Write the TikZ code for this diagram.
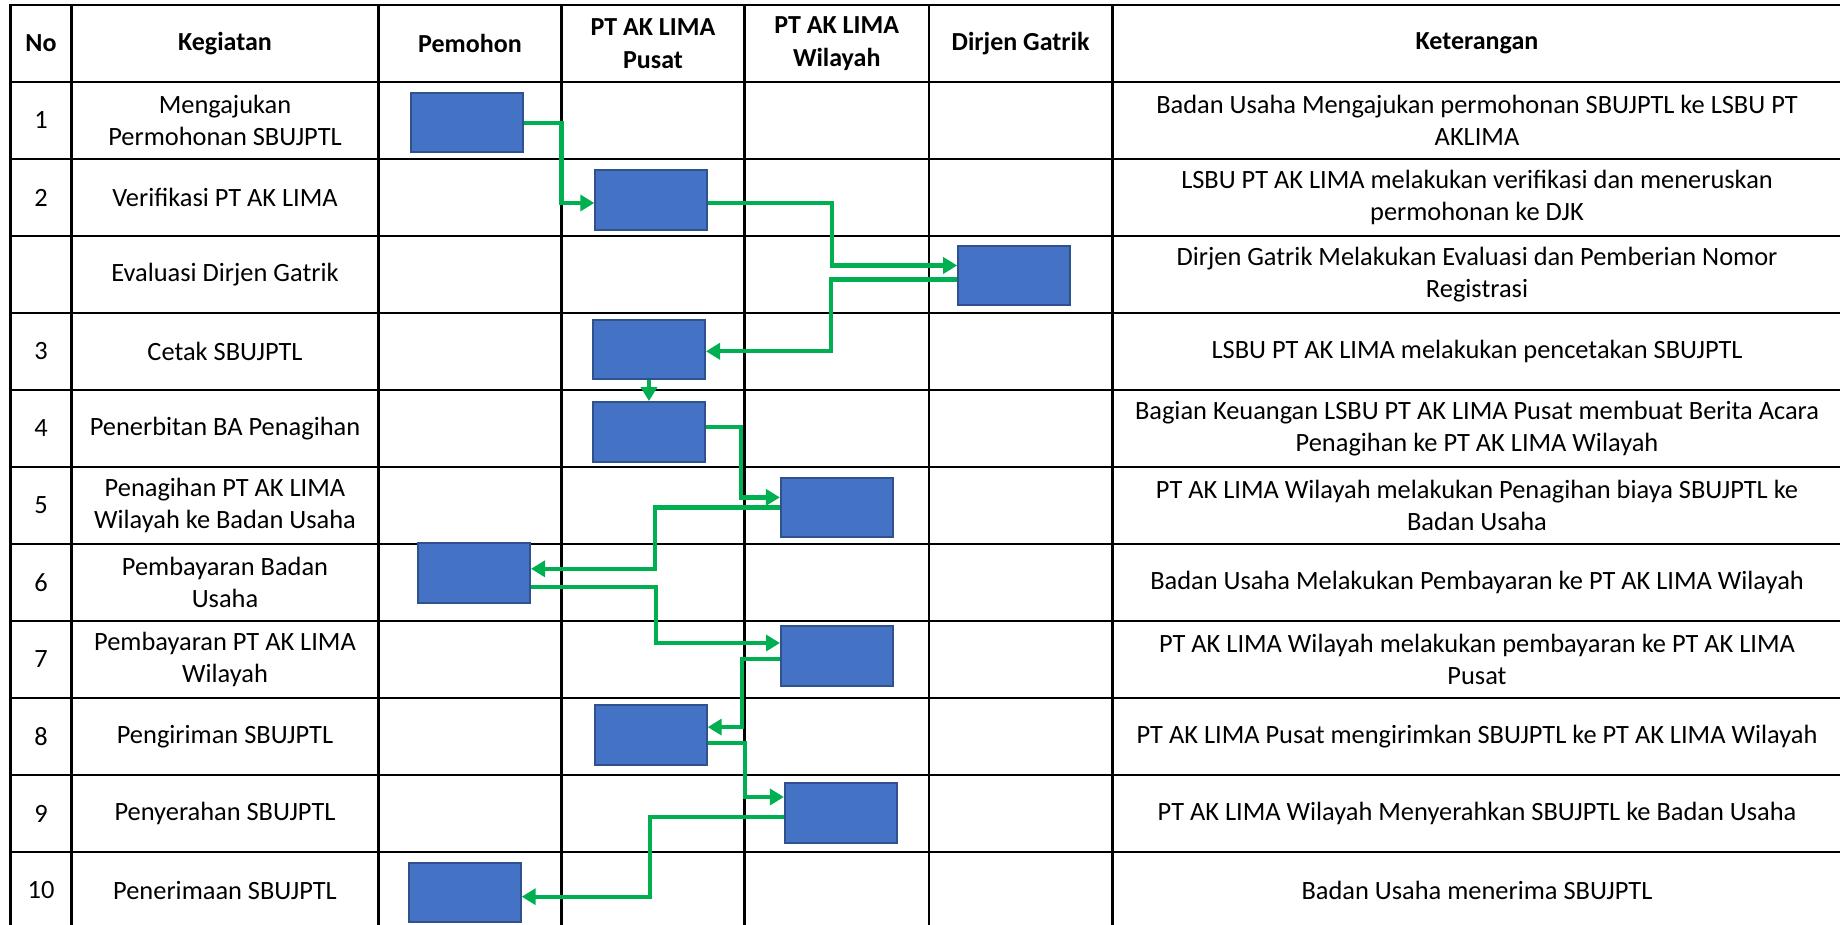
\documentclass[tikz,border=0pt]{standalone}
\usepackage{fontspec}
\setmainfont{Carlito}
\usetikzlibrary{arrows.meta}
\definecolor{boxblue}{HTML}{4472C4}
\definecolor{boxedge}{HTML}{2F528F}
\definecolor{flowgreen}{HTML}{00B050}

\begin{document}
\begin{tikzpicture}[x=1pt,y=-1pt]
	\pgfmathsetmacro{\rowH}{77}
	\pgfmathsetmacro{\colNo}{41}
	\pgfmathsetmacro{\colKeg}{225}
	\pgfmathsetmacro{\colKet}{1477}
	\tikzstyle{grid}=[line width=2.5pt, line cap=rect]
	\tikzstyle{head}=[font=\fontsize{26}{33}\selectfont\bfseries, align=center, inner sep=0pt]
	\tikzstyle{txt}=[font=\fontsize{26.4}{31.5}\selectfont, align=center, inner sep=0pt]
	\tikzstyle{act}=[draw=boxedge, line width=2pt, fill=boxblue, minimum width=112pt, minimum height=59.5pt, inner sep=0pt]
	\tikzstyle{flow}=[flowgreen, line width=4.3pt, -{Triangle[length=14pt,width=16pt]}]

	\useasboundingbox (0,0) rectangle (1840,925);

	% table lines
	\draw[grid] (10.6, 5) -- (1845, 5);
	\draw[grid] (10.6, 5+1*\rowH) -- (1845, 5+1*\rowH);
	\draw[grid] (10.6, 5+2*\rowH) -- (1845, 5+2*\rowH);
	\draw[grid] (10.6, 5+3*\rowH) -- (1845, 5+3*\rowH);
	\draw[grid] (10.6, 5+4*\rowH) -- (1845, 5+4*\rowH);
	\draw[grid] (10.6, 5+5*\rowH) -- (1845, 5+5*\rowH);
	\draw[grid] (10.6, 5+6*\rowH) -- (1845, 5+6*\rowH);
	\draw[grid] (10.6, 5+7*\rowH) -- (1845, 5+7*\rowH);
	\draw[grid] (10.6, 5+8*\rowH) -- (1845, 5+8*\rowH);
	\draw[grid] (10.6, 5+9*\rowH) -- (1845, 5+9*\rowH);
	\draw[grid] (10.6, 5+10*\rowH) -- (1845, 5+10*\rowH);
	\draw[grid] (10.6, 5+11*\rowH) -- (1845, 5+11*\rowH);
	\draw[grid] (10.6, 5) -- (10.6, 935);
	\draw[grid] (71.6, 5) -- (71.6, 935);
	\draw[grid] (378.5, 5) -- (378.5, 935);
	\draw[grid] (561.5, 5) -- (561.5, 935);
	\draw[grid] (744.6, 5) -- (744.6, 935);
	\draw[grid] (928.8, 5) -- (928.8, 935);
	\draw[grid] (1112.4, 5) -- (1112.4, 935);

	% header
	\node[head] (hNo) at (\colNo, 5+0.5*\rowH) {No};
	\node[head] (hKeg) at (\colKeg, 5+0.5*\rowH) {Kegiatan};
	\node[head] (hPem) at (470, 5+0.5*\rowH) {Pemohon};
	\node[head] (hPus) at (653, 5+0.5*\rowH) {PT AK LIMA\\Pusat};
	\node[head] (hWil) at (836.7, 5+0.5*\rowH) {PT AK LIMA\\Wilayah};
	\node[head] (hDir) at (1020.6, 5+0.5*\rowH) {Dirjen Gatrik};
	\node[head] (hKet) at (\colKet, 5+0.5*\rowH) {Keterangan};

	% numbers
	\node[txt] (n1) at (\colNo, 5+1.5*\rowH) {1};
	\node[txt] (n2) at (\colNo, 5+2.5*\rowH) {2};
	\node[txt] (n3) at (\colNo, 5+4.5*\rowH) {3};
	\node[txt] (n4) at (\colNo, 5+5.5*\rowH) {4};
	\node[txt] (n5) at (\colNo, 5+6.5*\rowH) {5};
	\node[txt] (n6) at (\colNo, 5+7.5*\rowH) {6};
	\node[txt] (n7) at (\colNo, 5+8.5*\rowH) {7};
	\node[txt] (n8) at (\colNo, 5+9.5*\rowH) {8};
	\node[txt] (n9) at (\colNo, 5+10.5*\rowH) {9};
	\node[txt] (n10) at (\colNo, 5+11.5*\rowH) {10};

	% kegiatan
	\node[txt] (k1) at (\colKeg, 5+1.5*\rowH) {Mengajukan\\Permohonan SBUJPTL};
	\node[txt] (k2) at (\colKeg, 5+2.5*\rowH) {Verifikasi PT AK LIMA};
	\node[txt] (kE) at (\colKeg, 5+3.5*\rowH) {Evaluasi Dirjen Gatrik};
	\node[txt] (k3) at (\colKeg, 5+4.5*\rowH) {Cetak SBUJPTL};
	\node[txt] (k4) at (\colKeg, 5+5.5*\rowH) {Penerbitan BA Penagihan};
	\node[txt] (k5) at (\colKeg, 5+6.5*\rowH) {Penagihan PT AK LIMA\\Wilayah ke Badan Usaha};
	\node[txt] (k6) at (\colKeg, 5+7.5*\rowH) {Pembayaran Badan\\Usaha};
	\node[txt] (k7) at (\colKeg, 5+8.5*\rowH) {Pembayaran PT AK LIMA\\Wilayah};
	\node[txt] (k8) at (\colKeg, 5+9.5*\rowH) {Pengiriman SBUJPTL};
	\node[txt] (k9) at (\colKeg, 5+10.5*\rowH) {Penyerahan SBUJPTL};
	\node[txt] (k10) at (\colKeg, 5+11.5*\rowH) {Penerimaan SBUJPTL};

	% keterangan
	\node[txt] (t1) at (\colKet, 5+1.5*\rowH) {Badan Usaha Mengajukan permohonan SBUJPTL ke LSBU PT\\AKLIMA};
	\node[txt] (t2) at (\colKet, 5+2.5*\rowH) {LSBU PT AK LIMA melakukan verifikasi dan meneruskan\\permohonan ke DJK};
	\node[txt] (tE) at (\colKet, 5+3.5*\rowH) {Dirjen Gatrik Melakukan Evaluasi dan Pemberian Nomor\\Registrasi};
	\node[txt] (t3) at (\colKet, 5+4.5*\rowH) {LSBU PT AK LIMA melakukan pencetakan SBUJPTL};
	\node[txt] (t4) at (\colKet, 5+5.5*\rowH) {Bagian Keuangan LSBU PT AK LIMA Pusat membuat Berita Acara\\Penagihan ke PT AK LIMA Wilayah};
	\node[txt] (t5) at (\colKet, 5+6.5*\rowH) {PT AK LIMA Wilayah melakukan Penagihan biaya SBUJPTL ke\\Badan Usaha};
	\node[txt] (t6) at (\colKet, 5+7.5*\rowH) {Badan Usaha Melakukan Pembayaran ke PT AK LIMA Wilayah};
	\node[txt] (t7) at (\colKet, 5+8.5*\rowH) {PT AK LIMA Wilayah melakukan pembayaran ke PT AK LIMA\\Pusat};
	\node[txt] (t8) at (\colKet, 5+9.5*\rowH) {PT AK LIMA Pusat mengirimkan SBUJPTL ke PT AK LIMA Wilayah};
	\node[txt] (t9) at (\colKet, 5+10.5*\rowH) {PT AK LIMA Wilayah Menyerahkan SBUJPTL ke Badan Usaha};
	\node[txt] (t10) at (\colKet, 5+11.5*\rowH) {Badan Usaha menerima SBUJPTL};

	% activity boxes
	\node[act] (B1) at (467.4, 122.7) {};
	\node[act] (B2) at (651.3, 200) {};
	\node[act] (B3) at (1014.2, 275.5) {};
	\node[act] (B4) at (649, 349.3) {};
	\node[act] (B5) at (649, 431.8) {};
	\node[act] (B6) at (836.9, 507.4) {};
	\node[act] (B7) at (474, 572.8) {};
	\node[act] (B8) at (837, 656) {};
	\node[act] (B9) at (650.7, 735.1) {};
	\node[act] (B10) at (840.9, 813) {};
	\node[act] (B11) at (464.7, 892.7) {};

	% flow
	\draw[flow] (B1.east) -- ++(37,0) |- ([yshift=-3pt]B2.west);
	\draw[flow] ([yshift=-3pt]B2.east) -- ++(124,0) |- ([yshift=10pt]B3.west);
	\draw[flow] ([yshift=-4pt]B3.west) -- ++(-126,0) |- ([yshift=-2pt]B4.east);
	\draw[flow] (B4.south) -- (B5.north);
	\draw[flow] ([yshift=5pt]B5.east) -- ++(35,0) |- ([yshift=10pt]B6.west);
	\draw[flow] (B6.west) -- ++(-125,0) |- ([yshift=4pt]B7.east);
	\draw[flow] ([yshift=-14pt]B7.east) -- ++(125,0) |- ([yshift=13pt]B8.west);
	\draw[flow] ([yshift=-3pt]B8.west) -- ++(-38,0) |- ([yshift=8pt]B9.east);
	\draw[flow] ([yshift=-8pt]B9.east) -- ++(37,0) |- ([yshift=16pt]B10.west);
	\draw[flow] ([yshift=-4pt]B10.west) -- ++(-134,0) |- ([yshift=-4pt]B11.east);
\end{tikzpicture}
\end{document}
